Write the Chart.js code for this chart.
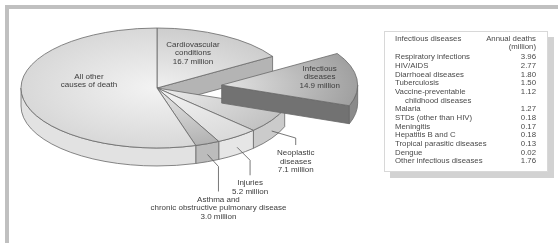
<!DOCTYPE html>
<html>
<head>
<meta charset="utf-8">
<script src="https://cdn.jsdelivr.net/npm/chart.js@4.4.0/dist/chart.umd.min.js"></script>
<style>
body { margin: 0; background: #fff; }
#wrap { position: relative; width: 558px; height: 243px; overflow: hidden; font-family: "Liberation Sans", Arial, sans-serif; }
#frame { position: absolute; left: 5px; top: 5px; right: -10px; bottom: -10px; border-top: 4px solid #c0c0c0; border-left: 4px solid #c0c0c0; }
#chart { position: absolute; left: 0; top: 0; }
#tableBox { position: absolute; left: 384px; top: 31px; width: 162px; height: 139px; border: 1px solid #d8d8d8; background: #fff; box-shadow: 6px 6px 0 #d2d2d2; font-size: 7.8px; color: #4a4a4a; }
.row { position: absolute; left: 10px; right: 11px; height: 8.6px; line-height: 8.6px; white-space: nowrap; }
.row .v { position: absolute; right: 0; top: 0; }
</style>
</head>
<body>
<div id="wrap">
  <div id="frame"></div>
  <canvas id="chart" width="558" height="243"></canvas>
  <div id="tableBox"></div>
</div>
<script>
// causes of death, clockwise from the top of the pie
const causes = ['Cardiovascular conditions', 'Infectious diseases', 'Neoplastic diseases', 'Injuries',
    'Asthma and chronic obstructive pulmonary disease', 'All other causes of death'];
const causeLines = [['Cardiovascular', 'conditions'], ['Infectious', 'diseases'], ['Neoplastic', 'diseases'],
    ['Injuries'], ['Asthma and', 'chronic obstructive pulmonary disease'], ['All other', 'causes of death']];
// million deaths (last one, no value printed)
const deaths = [16.7, 14.9, 7.1, 5.2, 3.0, 56.4];
const showValue = [true, true, true, true, true, false];

// side table
const tableHeader = ['Infectious diseases', 'Annual deaths', '(million)'];
const infectiousCauses = ['Respiratory infections', 'HIV/AIDS', 'Diarrhoeal diseases', 'Tuberculosis',
    'Vaccine-preventable\nchildhood diseases', 'Malaria', 'STDs (other than HIV)', 'Meningitis',
    'Hepatitis B and C', 'Tropical parasitic diseases', 'Dengue', 'Other infectious diseases'];
const infectiousDeaths = [3.96, 2.77, 1.80, 1.50, 1.12, 1.27, 0.18, 0.17, 0.18, 0.13, 0.02, 1.76];

// table
const box = document.getElementById('tableBox');
function addRow(top, left, right, indent) {
    const r = document.createElement('div');
    r.className = 'row';
    r.style.top = top + 'px';
    if (indent) r.style.left = (10 + indent) + 'px';
    r.textContent = left;
    if (right !== null) {
        const v = document.createElement('span');
        v.className = 'v';
        v.textContent = right;
        r.appendChild(v);
    }
    box.appendChild(r);
}
addRow(2.7, tableHeader[0], tableHeader[1]);
addRow(11.3, '', tableHeader[2]);
let line = 0;
infectiousCauses.forEach(function(name, i) {
    const parts = name.split('\n');
    addRow(21.4 + line * 8.65, parts[0], infectiousDeaths[i].toFixed(2));
    for (let k = 1; k < parts.length; k++) {
        line++;
        addRow(21.4 + line * 8.65, parts[k], null, 10);
    }
    line++;
});

function lighten(hex, f) {
    const n = parseInt(hex.slice(1), 16);
    const c = [n >> 16, (n >> 8) & 255, n & 255].map(v => Math.round(v + (255 - v) * f));
    return 'rgb(' + c.join(',') + ')';
}

// draws the pie as a tilted disc with depth, from the arcs laid out by Chart.js
const pie3d = {
    id: 'pie3d',
    beforeDatasetsDraw(chart, args, opts) {
        const ctx = chart.ctx;
        const arcs = chart.getDatasetMeta(0).data;
        const ds = chart.data.datasets[0];
        const t = opts.tilt, d = opts.depth, ex = opts.explodeIndex;
        const n = arcs.length;

        const geo = arcs.map(function(a, i) {
            let cx = a.x, cy = a.y;
            if (i === ex) {
                const mid = (a.startAngle + a.endAngle) / 2;
                cx += Math.cos(mid) * opts.explodeDistance;
                cy += Math.sin(mid) * opts.explodeDistance * t;
            }
            return {cx: cx, cy: cy, r: a.outerRadius, s: a.startAngle, e: a.endAngle};
        });
        const pt = (g, a, dy) => [g.cx + g.r * Math.cos(a), g.cy + g.r * t * Math.sin(a) + (dy || 0)];

        ctx.save();
        ctx.lineJoin = 'round';
        function edge() {
            ctx.strokeStyle = opts.edgeColor;
            ctx.lineWidth = opts.edgeWidth;
            ctx.stroke();
        }
        function radialWall(g, a, color) {
            const p = pt(g, a);
            ctx.beginPath();
            ctx.moveTo(g.cx, g.cy);
            ctx.lineTo(p[0], p[1]);
            ctx.lineTo(p[0], p[1] + d);
            ctx.lineTo(g.cx, g.cy + d);
            ctx.closePath();
            ctx.fillStyle = color;
            ctx.fill();
            edge();
        }
        function outerWall(g, color) {
            const b1 = Math.max(g.s, 0), b2 = Math.min(g.e, Math.PI);
            if (b2 <= b1) return;
            const p = pt(g, b2);
            ctx.beginPath();
            ctx.ellipse(g.cx, g.cy, g.r, g.r * t, 0, b1, b2);
            ctx.lineTo(p[0], p[1] + d);
            ctx.ellipse(g.cx, g.cy + d, g.r, g.r * t, 0, b2, b1, true);
            ctx.closePath();
            ctx.fillStyle = color;
            ctx.fill();
            edge();
        }
        function topFace(g, color) {
            ctx.beginPath();
            ctx.moveTo(g.cx, g.cy);
            ctx.ellipse(g.cx, g.cy, g.r, g.r * t, 0, g.s, g.e);
            ctx.closePath();
            ctx.save();
            ctx.translate(g.cx, g.cy);
            ctx.scale(1, t);
            const grad = ctx.createRadialGradient(0, 0, 0, 0, 0, g.r);
            grad.addColorStop(0, lighten(color, opts.glow));
            grad.addColorStop(1, color);
            ctx.fillStyle = grad;
            ctx.fill();
            ctx.restore();
            edge();
        }
        function walls(i) {
            const g = geo[i];
            const gapAfter = i === ex || (i + 1) % n === ex;
            const gapBefore = i === ex || (i - 1 + n) % n === ex;
            if (gapAfter && Math.cos(g.e) > 0) radialWall(g, g.e, opts.faceColors[i]);
            if (gapBefore && Math.cos(g.s) < 0) radialWall(g, g.s, opts.faceColors[i]);
        }

        // main disc
        for (let i = 0; i < n; i++) if (i !== ex) walls(i);
        for (let i = 0; i < n; i++) if (i !== ex) outerWall(geo[i], opts.sideColors[i]);
        for (let i = 0; i < n; i++) if (i !== ex) topFace(geo[i], ds.backgroundColor[i]);
        // exploded slice
        walls(ex);
        outerWall(geo[ex], opts.sideColors[ex]);
        topFace(geo[ex], ds.backgroundColor[ex]);

        // labels
        ctx.font = opts.font;
        ctx.fillStyle = opts.textColor;
        ctx.textAlign = 'center';
        ctx.textBaseline = 'middle';
        const lh = opts.lineHeight;
        geo.forEach(function(g, i) {
            const lines = causeLines[i].slice();
            if (showValue[i]) lines.push(deaths[i].toFixed(1) + ' million');
            const place = opts.labelPlacement[i];
            let x, y0;
            if (place.inside) {
                x = g.cx + place.inside[0];
                y0 = g.cy + place.inside[1] - (lines.length - 1) * lh / 2;
            } else {
                const mid = (g.s + g.e) / 2;
                const a = pt(g, mid, d * 0.6);
                const ex2 = a[0] + place.leader[0], ey2 = a[1] + place.leader[1];
                const dropY = ey2 + place.leader[2];
                ctx.beginPath();
                ctx.moveTo(a[0], a[1]);
                ctx.lineTo(ex2, ey2);
                ctx.lineTo(ex2, dropY);
                ctx.strokeStyle = opts.leaderColor;
                ctx.lineWidth = 0.8;
                ctx.stroke();
                x = ex2;
                y0 = dropY + 8;
            }
            lines.forEach(function(s, k) {
                ctx.fillText(s, x, y0 + k * lh);
            });
        });
        ctx.restore();
        return false;
    }
};

new Chart(document.getElementById('chart'), {
    type: 'pie',
    data: {
        labels: causes,
        datasets: [{
            data: deaths,
            backgroundColor: ['#cdcdcd', '#a0a0a0', '#c2c2c2', '#dadada', '#b2b2b2', '#d8d8d8'],
            borderWidth: 0
        }]
    },
    options: {
        responsive: false,
        animation: false,
        events: [],
        radius: 136,
        layout: {padding: {left: 0, top: 0, right: 244, bottom: 67}},
        plugins: {
            legend: {display: false},
            tooltip: {enabled: false},
            pie3d: {
                tilt: 0.441,
                depth: 18,
                explodeIndex: 1,
                explodeDistance: 65,
                glow: 0.7,
                edgeColor: '#686868',
                edgeWidth: 0.8,
                sideColors: ['#c4c4c4', '#8a8a8a', '#cbcbcb', '#e6e6e6', '#bcbcbc', '#e2e2e2'],
                faceColors: ['#b4b4b4', '#727272', '#c0c0c0', '#d8d8d8', '#b0b0b0', '#d4d4d4'],
                font: '8px "Liberation Sans", Arial, sans-serif',
                textColor: '#3c3c3c',
                leaderColor: '#555',
                lineHeight: 8.5,
                labelPlacement: [
                    {inside: [36, -35]},
                    {inside: [98, -8]},
                    {leader: [24, 7, 7]},
                    {leader: [13, 13, 15]},
                    {leader: [11, 12, 25]},
                    {inside: [-68, -7]}
                ]
            }
        }
    },
    plugins: [pie3d]
});
</script>
</body>
</html>
